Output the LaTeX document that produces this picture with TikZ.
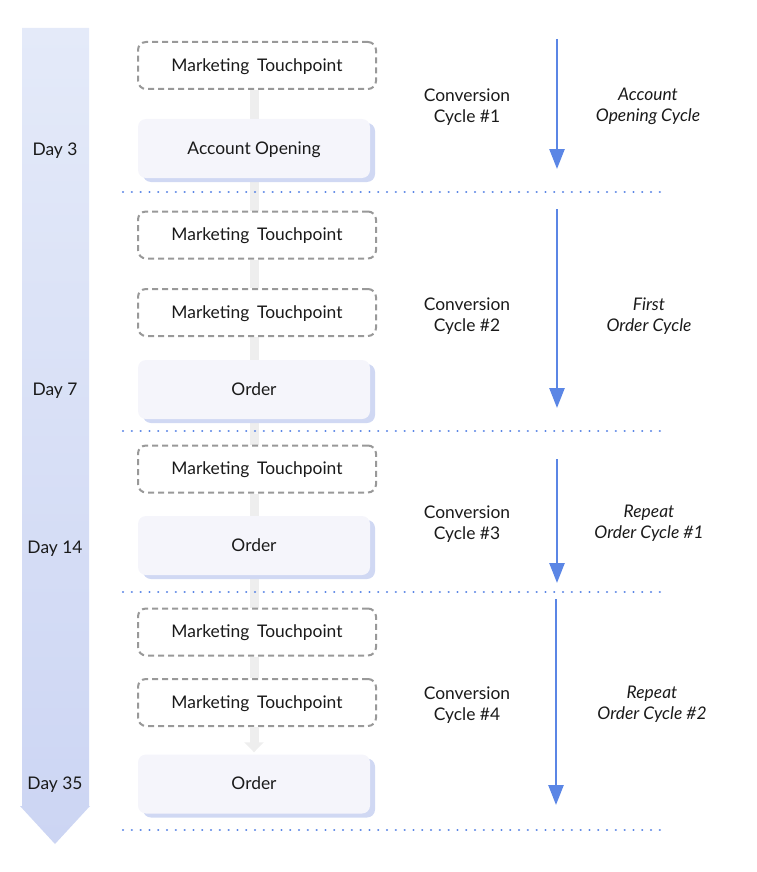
\documentclass[tikz,border=0pt]{standalone}
\usepackage{fontspec}
\setmainfont{Lato}
\usetikzlibrary{arrows.meta,shadows,backgrounds}
\definecolor{blueA}{HTML}{5B86E5}
\definecolor{barTop}{HTML}{E4EAF9}
\definecolor{barBot}{HTML}{CCD5F3}
\definecolor{boxFill}{HTML}{F5F5FB}
\definecolor{shadowC}{HTML}{D0D8F3}
\definecolor{dashC}{HTML}{999999}
\definecolor{connC}{HTML}{EEEEEE}
\definecolor{txtC}{HTML}{1A1A1A}
\begin{document}
\begin{tikzpicture}[x=1pt,y=-1pt,
  every node/.style={text=txtC,font=\fontsize{17.4}{21}\selectfont},
  mtbox/.style={draw=dashC,line width=2pt,dash pattern=on 6pt off 4pt,rounded corners=8pt,
     fill=white,minimum width=238pt,minimum height=47pt,inner sep=0pt,text height=13pt,text depth=1.5pt},
  evbox/.style={fill=boxFill,rounded corners=8pt,minimum width=232pt,minimum height=59pt,inner sep=0pt,
     text height=13pt,text depth=1.5pt,
     general shadow={shadow xshift=5pt,shadow yshift=-4pt,fill=shadowC}},
  conn/.style={draw=connC,line width=9pt},
  connarr/.style={draw=connC,line width=9pt,-{Triangle[width=19pt,length=10pt]}},
  cyc/.style={draw=blueA,line width=2.5pt,-{Triangle[width=15pt,length=20pt]}},
  sep/.style={draw=blueA,line width=2.3pt,line cap=round,dash pattern=on 0.1pt off 8.7pt},
  lbl/.style={align=center,inner sep=0pt,yshift=-1.2pt},
  ilbl/.style={align=center,inner sep=0pt,yshift=-1.2pt,font=\fontsize{17.4}{21}\selectfont\itshape},
  daylbl/.style={inner sep=0pt,text height=13pt,text depth=1.5pt}
]
\useasboundingbox (0,0) rectangle (756,872);
% time bar
\shade[top color=barTop,bottom color=barBot] (22,28) -- (89,28) -- (89,806) -- (90,806) -- (55,844) -- (20,806) -- (22,806) -- cycle;
\node[daylbl] (d3) at (55,150) {Day 3};
\node[daylbl] (d7) at (55,390) {Day 7};
\node[daylbl] (d14) at (55,548) {Day 14};
\node[daylbl] (d35) at (55,784) {Day 35};

% separators
\coordinate (s1a) at (123,192); \coordinate (s1b) at (665,192);
\coordinate (s2a) at (123,431); \coordinate (s2b) at (665,431);
\coordinate (s3a) at (123,592); \coordinate (s3b) at (665,592);
\coordinate (s4a) at (123,830); \coordinate (s4b) at (665,830);
\draw[sep] (s1a) -- (s1b);
\draw[sep] (s2a) -- (s2b);
\draw[sep] (s3a) -- (s3b);
\draw[sep] (s4a) -- (s4b);

% boxes
\node[mtbox] (m1) at (257,65.5) {Marketing\hspace{0.45em}Touchpoint};
\node[evbox] (a1) at (254,148.5) {Account Opening};
\node[mtbox] (m2) at (257,235) {Marketing\hspace{0.45em}Touchpoint};
\node[mtbox] (m3) at (257,312.5) {Marketing\hspace{0.45em}Touchpoint};
\node[evbox] (o1) at (254,389.5) {Order};
\node[mtbox] (m4) at (257,469) {Marketing\hspace{0.45em}Touchpoint};
\node[evbox] (o2) at (254,545.5) {Order};
\node[mtbox] (m5) at (257,632) {Marketing\hspace{0.45em}Touchpoint};
\node[mtbox] (m6) at (257,702.5) {Marketing\hspace{0.45em}Touchpoint};
\node[evbox] (o3) at (254,784) {Order};

\begin{scope}[on background layer]
\draw[conn] (a1.center |- m1.south) -- (a1.north);
\draw[conn] (a1.south) -- (a1.center |- m2.north);
\draw[conn] (a1.center |- m2.south) -- (a1.center |- m3.north);
\draw[conn] (a1.center |- m3.south) -- (o1.north);
\draw[conn] (o1.south) -- (o1.center |- m4.north);
\draw[conn] (o1.center |- m4.south) -- (o2.north);
\draw[conn] (o2.south) -- (o2.center |- m5.north);
\draw[conn] (o2.center |- m5.south) -- (o2.center |- m6.north);
\end{scope}
\draw[connarr] (o3.center |- m6.south) -- ([yshift=2pt]o3.north);

% cycle arrows
\coordinate (c1a) at (557,39); \coordinate (c1b) at (557,169);
\coordinate (c2a) at (557,209); \coordinate (c2b) at (557,408);
\coordinate (c3a) at (557,459); \coordinate (c3b) at (557,583);
\coordinate (c4a) at (556,599); \coordinate (c4b) at (556,805);
\draw[cyc] (c1a) -- (c1b);
\draw[cyc] (c2a) -- (c2b);
\draw[cyc] (c3a) -- (c3b);
\draw[cyc] (c4a) -- (c4b);

% labels
\node[lbl] (cc1) at (467,105.5) {Conversion\\Cycle \#1};
\node[lbl] (cc2) at (467,314.5) {Conversion\\Cycle \#2};
\node[lbl] (cc3) at (467,522.5) {Conversion\\Cycle \#3};
\node[lbl] (cc4) at (467,703.5) {Conversion\\Cycle \#4};
\node[ilbl] (t1) at (648,105.5) {Account\\Opening Cycle};
\node[ilbl] (t2) at (649,314.5) {First\\Order Cycle};
\node[ilbl] (t3) at (649,522.5) {Repeat\\Order Cycle \#1};
\node[ilbl] (t4) at (652,703.5) {Repeat\\Order Cycle \#2};
\end{tikzpicture}
\end{document}
